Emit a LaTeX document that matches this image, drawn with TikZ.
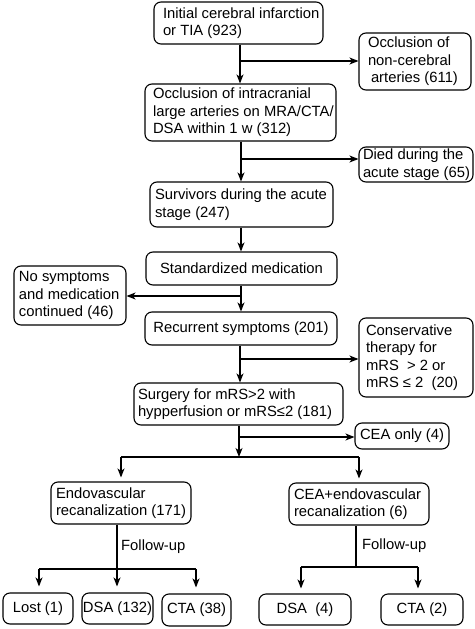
\documentclass[tikz,border=0pt]{standalone}
\usepackage{fontspec}
\setmainfont{Liberation Sans}
\usetikzlibrary{arrows.meta,calc}
\tikzset{
  box/.style={draw, line width=1.1pt, rounded corners=7pt, inner sep=0pt,
    font=\fontsize{14.8}{17.5}\selectfont},
  ln/.style={line width=1.1pt},
  arr/.style={ln, -{Stealth[length=9pt,width=7pt,inset=2.5pt]}},
  lab/.style={font=\fontsize{14.8}{17.5}\selectfont, inner sep=0pt, anchor=west}
}
% name, cx, cy, w, h, leftpad, text  (left aligned)
\newcommand{\lbx}[7]{%
  \node[box, minimum width=#4pt, minimum height=#5pt] (#1) at (#2,#3)
    {\parbox[c]{#4pt}{\raggedright\leftskip=#6pt\relax #7}};
}
% name, cx, cy, w, h, text (centred)
\newcommand{\cbx}[6]{%
  \node[box, minimum width=#4pt, minimum height=#5pt] (#1) at (#2,#3)
    {\parbox[c]{#4pt}{\centering #6}};
}
\begin{document}
\begin{tikzpicture}[x=1pt,y=-1pt]
\useasboundingbox (0,0) rectangle (474,629);
\lbx{b1}{238.5}{23}{169}{42}{9}{Initial cerebral infarction\\or TIA (923)}
\lbx{b2}{415}{61.5}{112}{57}{9}{Occlusion of\\non-cerebral\\\hspace*{3pt}arteries (611)}
\lbx{b3}{240.5}{112.5}{191}{57}{8}{Occlusion of intracranial\\large arteries on MRA/CTA/\\DSA within 1 w (312)}
\lbx{b4}{416}{164.5}{114}{35}{4}{Died during the\\acute stage (65)}
\lbx{b5}{241.5}{204.5}{183}{45}{5}{Survivors during the acute\\stage (247)}
\cbx{b6}{241.5}{268.5}{191}{33}{Standardized medication}
\lbx{b7}{70}{295.5}{112}{59}{5}{No symptoms\\and medication\\continued (46)}
\cbx{b8}{241}{328.5}{192}{33}{Recurrent symptoms (201)}
\lbx{b9}{416}{357.5}{114}{79}{7}{Conservative\\therapy for\\mRS \ {>} 2 or\\mRS ≤ 2 \ (20)}
\lbx{b10}{238.5}{404}{209}{42}{4}{Surgery for mRS>2 with\\hypperfusion or mRS≤2 (181)}
\cbx{b11}{402}{436}{94}{26}{CEA only (4)}
\lbx{b12}{121}{503}{140}{42}{5}{Endovascular\\recanalization (171)}
\lbx{b13}{359}{504}{140}{42}{5}{CEA+endovascular\\recanalization (6)}
\cbx{b14}{38}{608.5}{70}{31}{Lost (1)}
\cbx{b15}{117.5}{608.5}{71}{31}{DSA (132)}
\cbx{b16}{196.5}{610}{69}{32}{CTA (38)}
\cbx{b17}{305}{609.5}{92}{31}{DSA \ (4)}
\cbx{b18}{422}{609.5}{82}{31}{CTA (2)}
% connectors
\coordinate (j1) at (240,61);
\draw[arr] (b1.south -| j1) -- (b3.north -| j1);
\draw[arr] (j1) -- (j1 -| b2.west);
\coordinate (j2) at (241,159);
\draw[arr] (b3.south -| j2) -- (b5.north -| j2);
\draw[arr] (j2) -- (j2 -| b4.west);
\draw[arr] (b5.south -| j2) -- (b6.north -| j2);
\coordinate (j3) at (241,296);
\draw[arr] (b6.south -| j3) -- (b8.north -| j3);
\draw[arr] (j3) -- (j3 -| b7.east);
\coordinate (j4) at (240,359);
\draw[arr] (b8.south -| j4) -- (b10.north -| j4);
\draw[arr] (j4) -- (j4 -| b9.west);
\coordinate (j5) at (239,437);
\coordinate (j6) at (239,457);
\draw[arr] (b10.south -| j5) -- (j6);
\draw[arr] (j5) -- (j5 -| b11.west);
\coordinate (hl) at (121,457);
\coordinate (hr) at (359,457);
\draw[ln] (hl) -- (hr);
\draw[arr, shorten >=4pt] (hl) -- (b12.north -| hl);
\draw[arr, shorten >=4pt] (hr) -- (b13.north -| hr);
% left follow-up
\coordinate (f1) at (117,569);
\coordinate (f1l) at (39,569);
\coordinate (f1r) at (196,569);
\draw[arr, shorten >=6pt] (b12.south -| f1) -- (b15.north -| f1);
\draw[ln] (f1l) -- (f1r);
\draw[arr, shorten >=6pt] (f1l) -- (b14.north -| f1l);
\draw[arr, shorten >=6pt] (f1r) -- (b16.north -| f1r);
\node[lab] (fu1) at (121,547) {Follow-up};
% right follow-up
\coordinate (f2) at (356,567);
\coordinate (f2l) at (301,567);
\coordinate (f2r) at (418,567);
\draw[ln] (b13.south -| f2) -- (f2);
\draw[ln] (f2l) -- (f2r);
\draw[arr, shorten >=5pt] (f2l) -- (b17.north -| f2l);
\draw[arr, shorten >=5pt] (f2r) -- (b18.north -| f2r);
\node[lab] (fu2) at (362,546) {Follow-up};
\end{tikzpicture}
\end{document}
